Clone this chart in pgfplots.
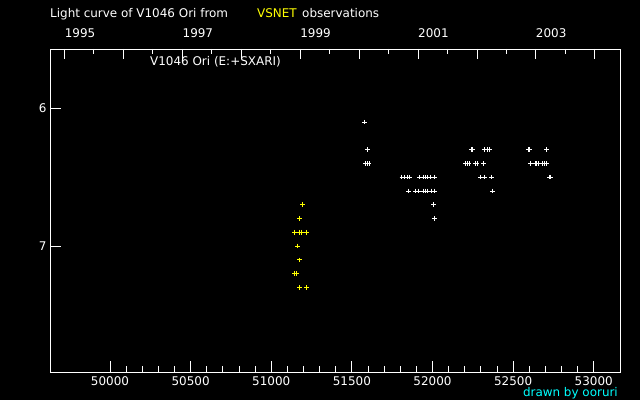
\documentclass[border=0pt]{standalone}
\usepackage{fontspec}
\setmainfont{DejaVu Sans}
\usepackage{pgfplots}
\pgfplotsset{compat=1.18}
\definecolor{obsyellow}{RGB}{255,255,0}
\definecolor{signcyan}{RGB}{0,255,255}

\pgfplotstableread{
x y
51193 6.7
51174 6.8
51143 6.9
51174 6.9
51190 6.9
51218 6.9
51162 7.0
51174 7.1
51143 7.2
51158 7.2
51174 7.3
51218 7.3
}\yellowobs

\pgfplotstableread{
x y
51578 6.1
51596 6.3
51584 6.4
51596 6.4
51606 6.4
51810 6.5
51826 6.5
51842 6.5
51859 6.5
51921 6.5
51942 6.5
51954 6.5
51966 6.5
51987 6.5
52012 6.5
51850 6.6
51896 6.6
51912 6.6
51942 6.6
51954 6.6
51966 6.6
51995 6.6
52012 6.6
52006 6.7
52012 6.8
52240 6.3
52248 6.3
52322 6.3
52339 6.3
52353 6.3
52204 6.4
52218 6.4
52227 6.4
52264 6.4
52277 6.4
52316 6.4
52297 6.5
52322 6.5
52365 6.5
52372 6.6
52594 6.3
52600 6.3
52707 6.3
52607 6.4
52636 6.4
52645 6.4
52657 6.4
52681 6.4
52694 6.4
52707 6.4
52725 6.5
52731 6.5
}\whiteobs

\newcommand{\chartfont}{\fontsize{12}{14}\selectfont}

\begin{document}
\begin{tikzpicture}[x=1bp,y=1bp]
\fill[black] (0,0) rectangle (640,400);

\begin{axis}[
  at={(50bp,28bp)}, anchor=south west,
  width=570bp, height=323bp, scale only axis,
  xmin=49628, xmax=53163,
  ymin=5.569, ymax=7.915, y dir=reverse,
  axis line style={white, line width=0.8pt},
  every tick/.style={white, line width=0.8pt},
  xtick={50000,50500,51000,51500,52000,52500,53000},
  minor x tick num=4,
  ytick={6,7},
  xtick pos=bottom, ytick pos=left,
  major tick length=11bp, minor tick length=6bp,
  scaled x ticks=false,
  tick label style={white, font=\chartfont},
  /pgf/number format/assume math mode=true,
  /pgf/number format/set thousands separator={},
  xticklabel style={yshift=-1bp},
]
\addplot[only marks, mark=+, mark size=2.3pt, line width=0.9pt, obsyellow] table {\yellowobs};
\addplot[only marks, mark=+, mark size=2.3pt, line width=0.9pt, white] table {\whiteobs};
\end{axis}

\begin{axis}[
  at={(50bp,28bp)}, anchor=south west,
  width=570bp, height=323bp, scale only axis,
  xmin=49628, xmax=53163,
  ymin=0, ymax=1,
  axis x line*=top, axis y line=none,
  scaled x ticks=false,
  axis line style={white, line width=0.8pt},
  every tick/.style={white, line width=0.8pt},
  xtick={49718.5,50083.5,50449.5,50814.5,51179.5,51544.5,51910.5,52275.5,52640.5,53005.5},
  xticklabels={1995,,1997,,1999,,2001,,2003,},
  minor xtick={49900,50266,50632,50997,51362,51727,52093,52458,52823},
  major tick length=10bp, minor tick length=5bp,
  xticklabel style={white, font=\chartfont, anchor=base west, inner sep=0pt, yshift=11bp},
]
\end{axis}

\node[anchor=base west, inner sep=0pt, white, font=\chartfont] at (50,383) {Light curve of V1046 Ori from};
\node[anchor=base west, inner sep=0pt, obsyellow, font=\chartfont] at (257,383) {VSNET};
\node[anchor=base west, inner sep=0pt, white, font=\chartfont] at (302,383) {observations};
\node[anchor=base west, inner sep=0pt, white, font=\chartfont] at (150,335) {V1046 Ori (E:+SXARI)};
\node[anchor=base east, inner sep=0pt, signcyan, font=\chartfont] at (618,4) {drawn by ooruri};
\end{tikzpicture}
\end{document}
